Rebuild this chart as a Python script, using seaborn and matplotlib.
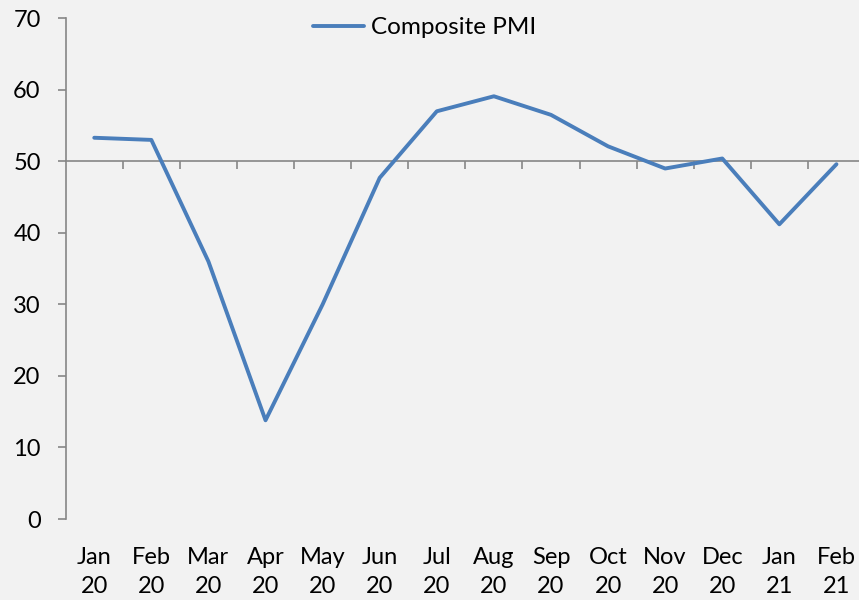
import pandas as pd
import matplotlib.pyplot as plt
import seaborn as sns
import numpy as np

months = ["Jan\n20", "Feb\n20", "Mar\n20", "Apr\n20", "May\n20", "Jun\n20", "Jul\n20",
          "Aug\n20", "Sep\n20", "Oct\n20", "Nov\n20", "Dec\n20", "Jan\n21", "Feb\n21"]
composite_pmi = [53.3, 53.0, 36.0, 13.8, 30.0, 47.7, 57.0, 59.1, 56.5, 52.1, 49.0, 50.4, 41.2, 49.6]
y_ticks = [0, 10, 20, 30, 40, 50, 60, 70]
base_line = 50

BG = '#f2f2f2'
GREY = '#868686'
BLUE = '#4a7ebb'


def plot_pmi():
    df = pd.DataFrame({'mes': months, 'pmi': composite_pmi})
    df['pos'] = np.arange(len(df))

    sns.set_style('white')
    plt.rcParams['font.family'] = ['Lato', 'DejaVu Sans']
    plt.rcParams['text.color'] = 'black'

    fig = plt.figure(figsize=(8.59, 6.0), dpi=100, facecolor=BG)
    ax = fig.add_axes([65.7 / 859, 1 - 519 / 600, (865 - 65.7) / 859, (519 - 18.3) / 600])
    ax.set_facecolor(BG)

    sns.lineplot(data=df, x='pos', y='pmi', color=BLUE, linewidth=2.8, sort=False,
                 label='Composite PMI', ax=ax)

    ax.set_xlim(-0.5, len(months) - 0.5)
    ax.set_ylim(y_ticks[0], y_ticks[-1])
    ax.set_yticks(y_ticks)
    ax.set_xticks(df['pos'])
    ax.set_xticklabels(months, linespacing=1.5)
    ax.set_xlabel('')
    ax.set_ylabel('')

    for s in ['top', 'right', 'bottom']:
        ax.spines[s].set_visible(False)
    ax.spines['left'].set_color(GREY)
    ax.spines['left'].set_linewidth(1.2)
    ax.tick_params(axis='y', direction='out', length=6, width=1.2, color=GREY,
                   labelsize=17, pad=12, left=True, labelcolor='black')
    ax.tick_params(axis='x', length=0, labelsize=17, pad=20, labelcolor='black')

    # eje horizontal en 50 con marcas entre categorias
    sec = ax.secondary_xaxis((base_line - y_ticks[0]) / (y_ticks[-1] - y_ticks[0]))
    sec.set_xticks(np.arange(0.5, len(months) - 1, 1))
    sec.set_xticklabels([])
    sec.tick_params(axis='x', direction='out', length=6, width=1.2, color=GREY,
                    labelbottom=False, labeltop=False, bottom=True, top=False)
    for sp in sec.spines.values():
        sp.set_color(GREY)
        sp.set_linewidth(1.2)

    ax.legend(loc='center left', bbox_to_anchor=(313 / 859, 1 - 27.7 / 600),
              bbox_transform=fig.transFigure, frameon=False, fontsize=17.5,
              handlelength=2.1, handletextpad=0.3, borderpad=0, borderaxespad=0)

    fig.savefig('out.png', dpi=100, facecolor=BG)


if __name__ == '__main__':
    plot_pmi()
